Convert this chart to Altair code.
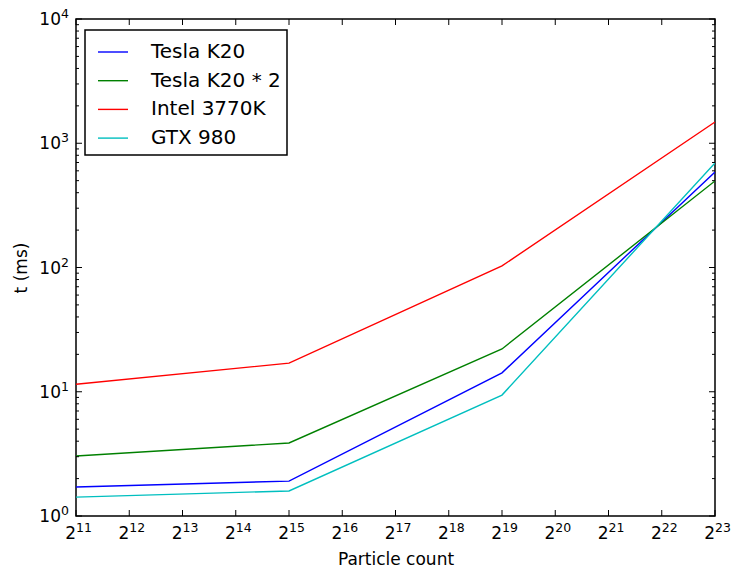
import altair as alt
import pandas as pd

# ---- data ----
particles = [2**11, 2**15, 2**19, 2**23]
series_names = ["Tesla K20", "Tesla K20 * 2", "Intel 3770K", "GTX 980"]
tesla_k20 = [1.71, 1.91, 14.2, 587]
tesla_k20_x2 = [3.04, 3.87, 22.1, 497]
intel_3770k = [11.5, 17.0, 103, 1483]
gtx_980 = [1.42, 1.59, 9.4, 693]
series_colors = ["#0000ff", "#008000", "#ff0000", "#00bfbf"]

# tick values and their labels (base + exponent)
x_ticks = [2048, 4096, 8192, 16384, 32768, 65536, 131072, 262144,
           524288, 1048576, 2097152, 4194304, 8388608]
x_base = ["2"] * 13
x_exp = ["11", "12", "13", "14", "15", "16", "17", "18", "19", "20", "21", "22", "23"]
y_major = [1, 10, 100, 1000, 10000]
y_base = ["10"] * 5
y_exp = ["0", "1", "2", "3", "4"]
y_minor = [2, 3, 4, 5, 6, 7, 8, 9,
           20, 30, 40, 50, 60, 70, 80, 90,
           200, 300, 400, 500, 600, 700, 800, 900,
           2000, 3000, 4000, 5000, 6000, 7000, 8000, 9000]

rows = []
for name, vals in zip(series_names, [tesla_k20, tesla_k20_x2, intel_3770k, gtx_980]):
    for p, v in zip(particles, vals):
        rows.append({"series": name, "particles": p, "t": v})
df = pd.DataFrame(rows)

W, H = 639, 497
FONT = "DejaVu Sans"
BASE_SIZE = 17
EXP_SIZE = 12.5

xscale = alt.Scale(type="log", base=2, domain=[2**11, 2**23], nice=False)
yscale = alt.Scale(type="log", domain=[1, 10000], nice=False)

xaxis = alt.Axis(values=x_ticks, labels=False, ticks=False, domain=False, grid=False,
                 title="Particle count", titleFont=FONT, titleFontSize=17,
                 titleFontWeight="normal", titleColor="#000", titlePadding=35)
yaxis = alt.Axis(values=y_major, labels=False, ticks=False, domain=False, grid=False,
                 title="t (ms)", titleFont=FONT, titleFontSize=17,
                 titleFontWeight="normal", titleColor="#000", titlePadding=46)

lines = alt.Chart(df).mark_line(strokeWidth=1.4, clip=True).encode(
    x=alt.X("particles:Q", scale=xscale, axis=xaxis),
    y=alt.Y("t:Q", scale=yscale, axis=yaxis),
    color=alt.Color("series:N", sort=series_names,
                    scale=alt.Scale(domain=series_names, range=series_colors),
                    legend=alt.Legend(title=None, orient="none", legendX=9, legendY=11,
                                      symbolType="stroke", symbolSize=900, symbolStrokeWidth=1.4,
                                      symbolOffset=6, labelOffset=22,
                                      labelFont=FONT, labelFontSize=20, labelColor="#000",
                                      rowPadding=2.7, padding=6, strokeColor="#000",
                                      fillColor="#fff", cornerRadius=0, labelLimit=300)),
)

xt = pd.DataFrame({"v": x_ticks, "base": x_base, "exp": x_exp})
yt = pd.DataFrame({"v": y_major, "base": y_base, "exp": y_exp})
ymin = pd.DataFrame({"v": y_minor})

def xtick(y0, y1):
    return alt.Chart(xt).mark_rule(color="#000", strokeWidth=1).encode(
        x=alt.X("v:Q", scale=xscale, axis=xaxis), y=alt.value(y0), y2=alt.value(y1))

def ytick(data, x0, x1):
    return alt.Chart(data).mark_rule(color="#000", strokeWidth=1).encode(
        y=alt.Y("v:Q", scale=yscale, axis=yaxis), x=alt.value(x0), x2=alt.value(x1))

x_base_txt = alt.Chart(xt).mark_text(font=FONT, fontSize=BASE_SIZE, align="right",
                                     baseline="alphabetic", dx=0, color="#000").encode(
    x=alt.X("v:Q", scale=xscale, axis=xaxis), y=alt.value(H + 23), text="base:N")
x_exp_txt = alt.Chart(xt).mark_text(font=FONT, fontSize=EXP_SIZE, align="left",
                                    baseline="alphabetic", dx=0, color="#000").encode(
    x=alt.X("v:Q", scale=xscale, axis=xaxis), y=alt.value(H + 16), text="exp:N")
y_base_txt = alt.Chart(yt).mark_text(font=FONT, fontSize=BASE_SIZE, align="right",
                                     baseline="alphabetic", dy=6, color="#000").encode(
    y=alt.Y("v:Q", scale=yscale, axis=yaxis), x=alt.value(-15), text="base:N")
y_exp_txt = alt.Chart(yt).mark_text(font=FONT, fontSize=EXP_SIZE, align="left",
                                    baseline="alphabetic", dy=-1, color="#000").encode(
    y=alt.Y("v:Q", scale=yscale, axis=yaxis), x=alt.value(-15), text="exp:N")

chart = alt.layer(
    lines,
    xtick(H, H - 6), xtick(0, 6),
    ytick(yt, 0, 6), ytick(yt, W, W - 6),
    ytick(ymin, 0, 3), ytick(ymin, W, W - 3),
    x_base_txt, x_exp_txt, y_base_txt, y_exp_txt,
).properties(
    width=W, height=H,
    background="white",
    autosize=alt.AutoSizeParams(type="none"),
    padding={"left": 76, "top": 19, "right": 16, "bottom": 57},
).configure_view(stroke="#000", strokeWidth=1.5).configure_legend(strokeWidth=1.5)

chart.save("out.html", embed_options={"renderer": "svg", "actions": False})
